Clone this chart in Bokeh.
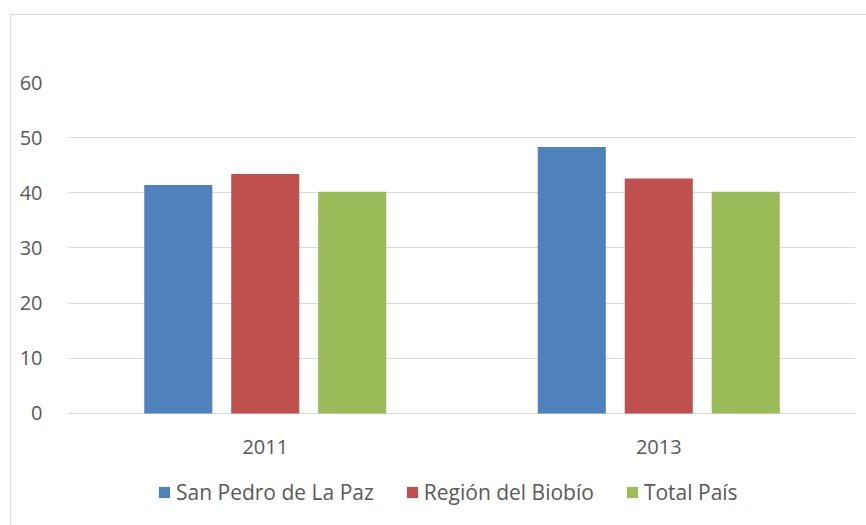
from bokeh.plotting import figure
from bokeh.models import (ColumnDataSource, FactorRange, Range1d, Legend, LegendItem,
                          FixedTicker)
from bokeh.core.properties import value
from bokeh.transform import dodge
from bokeh.embed import file_html
from bokeh.resources import INLINE

years = ["2011", "2013"]
san_pedro = [41.4, 48.3]
biobio = [43.4, 42.6]
total_pais = [40.2, 40.2]
series_names = ["San Pedro de La Paz", "Región del Biobío", "Total País"]
colors = ["#4f81bd", "#c0504d", "#9bbb59"]
y_ticks = [0, 10, 20, 30, 40, 50, 60]

src = ColumnDataSource(dict(years=years, a=san_pedro, b=biobio, c=total_pais))

FONT = "Open Sans"
TXT = "#595959"

# frame extends below the zero line so the category labels and legend sit inside it
p = figure(width=856, height=511, x_range=FactorRange(*years), y_range=Range1d(-19.58, 60),
           output_backend="svg", toolbar_location=None,
           min_border_left=57, min_border_right=12, min_border_top=67, min_border_bottom=5)
p.outline_line_color = None
p.background_fill_color = "white"
p.border_fill_color = "white"

renderers = []
for col, off, c in zip(["a", "b", "c"], [-0.221, 0.0, 0.221], colors):
    r = p.vbar(x=dodge("years", off, range=p.x_range), top=col, width=0.173, source=src,
               fill_color=c, line_color=None)
    renderers.append(r)

# category labels under the zero line
p.text(x="years", y=-6, text="years", source=src, text_align="center",
       text_baseline="middle", text_font=value(FONT), text_font_size="20px", text_color=TXT)

p.xaxis.visible = False
p.xgrid.grid_line_color = None
p.yaxis.ticker = FixedTicker(ticks=y_ticks)
p.ygrid.grid_line_color = "#d9d9d9"
p.ygrid.grid_line_width = 1
p.yaxis.axis_line_color = None
p.yaxis.major_tick_line_color = None
p.yaxis.minor_tick_line_color = None
p.yaxis.major_label_standoff = 20
p.yaxis.major_label_text_font = FONT
p.yaxis.major_label_text_font_size = "20px"
p.yaxis.major_label_text_color = TXT

legend = Legend(items=[LegendItem(label=n, renderers=[r]) for n, r in zip(series_names, renderers)],
                orientation="horizontal", location=(89, 15))
legend.label_text_font = FONT
legend.label_text_font_size = "21px"
legend.label_text_color = TXT
legend.glyph_width = 14
legend.glyph_height = 14
legend.label_standoff = 5
legend.spacing = 31
legend.padding = 0
legend.margin = 0
legend.border_line_color = None
legend.background_fill_alpha = 0
p.add_layout(legend, "center")

p.styles = {"border-left": "1px solid #d9d9d9", "border-top": "1px solid #d9d9d9",
            "margin-left": "10px", "margin-top": "14px"}

open("out.html", "w").write(file_html(p, INLINE))
